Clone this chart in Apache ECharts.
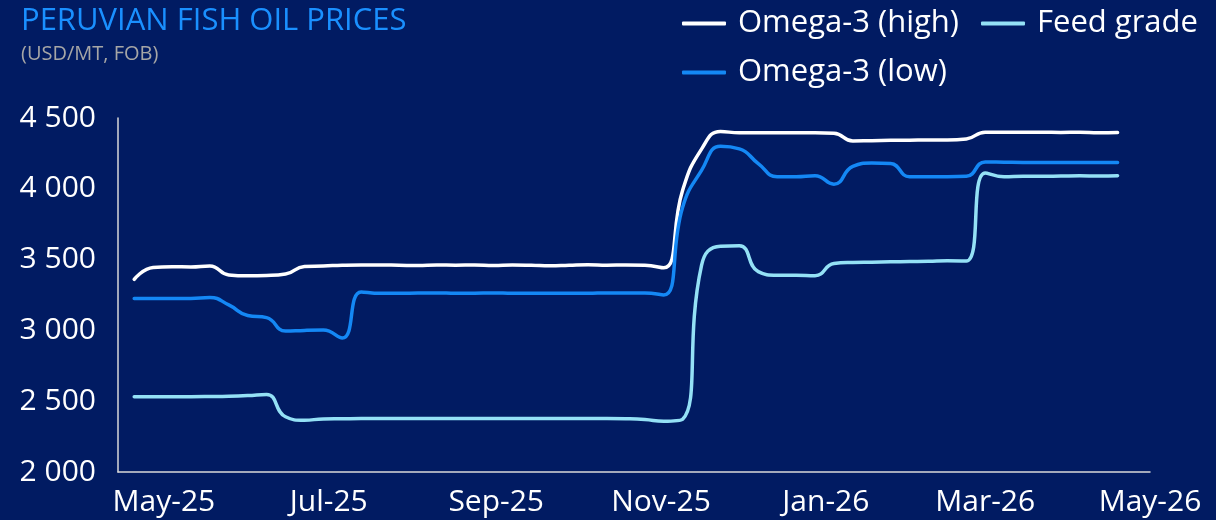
<!DOCTYPE html>
<html>
<head>
<meta charset="utf-8">
<title>Peruvian fish oil prices</title>
<script src="https://cdn.jsdelivr.net/npm/echarts@6/dist/echarts.min.js"></script>
<style>
  html, body { margin: 0; padding: 0; background: #011b62; }
  #chart { width: 1216px; height: 520px; }
</style>
</head>
<body>
<div id="chart"></div>
<script>
// weekly price points (USD/MT, FOB)
const weeks = [
  '2025-04-20', '2025-04-27', '2025-05-04', '2025-05-11', '2025-05-18', '2025-05-25',
  '2025-06-01', '2025-06-08', '2025-06-15', '2025-06-22', '2025-06-29',
  '2025-07-06', '2025-07-13', '2025-07-20', '2025-07-27',
  '2025-08-03', '2025-08-10', '2025-08-17', '2025-08-24', '2025-08-31',
  '2025-09-07', '2025-09-14', '2025-09-21', '2025-09-28',
  '2025-10-05', '2025-10-12', '2025-10-19', '2025-10-26',
  '2025-11-02', '2025-11-09', '2025-11-16', '2025-11-23', '2025-11-30',
  '2025-12-07', '2025-12-14', '2025-12-21', '2025-12-28',
  '2026-01-04', '2026-01-11', '2026-01-18', '2026-01-25',
  '2026-02-01', '2026-02-08', '2026-02-15', '2026-02-22',
  '2026-03-01', '2026-03-08', '2026-03-15', '2026-03-22', '2026-03-29',
  '2026-04-05', '2026-04-12', '2026-04-19'
]

const omegaHigh = [
  3360, 3445, 3450, 3448, 3455, 3392,
  3386, 3388, 3398, 3452, 3455,
  3460, 3462, 3462, 3460,
  3458, 3462, 3460, 3462, 3458,
  3462, 3460, 3456, 3460,
  3463, 3460, 3462, 3460,
  3442, 3990, 4280, 4405, 4395,
  4395, 4395, 4395, 4395,
  4393, 4338, 4340, 4342,
  4343, 4345, 4345, 4352,
  4400, 4400, 4400, 4400, 4398,
  4400, 4395, 4397
]

const omegaLow = [
  3225, 3225, 3225, 3226, 3232, 3180,
  3105, 3090, 2995, 3000, 3002,
  2946, 3272, 3262, 3262,
  3264, 3265, 3262, 3263, 3265,
  3262, 3262, 3263, 3262,
  3262, 3265, 3265, 3265,
  3250, 3870, 4130, 4300, 4282,
  4178, 4085, 4085, 4092,
  4033, 4158, 4182, 4178,
  4085, 4085, 4085, 4088,
  4190, 4188, 4186, 4186, 4186,
  4186, 4186, 4186
]

const feedGrade = [
  2532, 2532, 2532, 2532, 2533, 2535,
  2540, 2548, 2390, 2365, 2375,
  2376, 2377, 2377, 2378,
  2378, 2378, 2378, 2378, 2378,
  2378, 2378, 2378, 2378,
  2378, 2378, 2376, 2370,
  2358, 2372, 3460, 3595, 3598,
  3415, 3390, 3390, 3386,
  3472, 3480, 3482, 3484,
  3486, 3488, 3492, 3490,
  4112, 4085, 4088, 4088, 4090,
  4092, 4090, 4093
]

// x axis labels every two months
const labelMonths = ['2025-05-01', '2025-07-01', '2025-09-01', '2025-11-01', '2026-01-01', '2026-03-01', '2026-05-01']
const monthNames = ['Jan', 'Feb', 'Mar', 'Apr', 'May', 'Jun', 'Jul', 'Aug', 'Sep', 'Oct', 'Nov', 'Dec']

const font = 'Open Sans'
const DAY = 86400000
const origin = Date.UTC(2025, 4, 1)
// days since 1 May 2025
const toDay = (s) => {
  const p = s.split('-').map(Number)
  return Math.round((Date.UTC(p[0], p[1] - 1, p[2]) - origin) / DAY)
}
const dayLabel = (day) => {
  const d = new Date(origin + day * DAY)
  return monthNames[d.getUTCMonth()] + '-' + String(d.getUTCFullYear()).slice(2)
}
const pairs = (vals) => weeks.map((w, i) => [toDay(w), vals[i]])

const colors = {
  high: '#ffffff',
  low: '#1488f5',
  feed: '#94e1f6'
}

const lineSeries = (name, vals, color) => ({
  name: name,
  type: 'line',
  smooth: 0.5,
  showSymbol: false,
  data: pairs(vals),
  itemStyle: { color: color },
  lineStyle: { color: color, width: 3.5, cap: 'round', join: 'round' }
})

const legendBase = {
  left: 677,
  orient: 'horizontal',
  icon: 'roundRect',
  itemWidth: 44,
  itemHeight: 4,
  itemGap: 22,
  itemStyle: { borderWidth: 0 },
  textStyle: { color: '#ffffff', fontSize: 31, fontFamily: font, padding: [0, 0, 0, 7] }
}

const chart = echarts.init(document.getElementById('chart'))
chart.setOption({
  backgroundColor: '#011b62',
  animation: false,
  title: [
    {
      text: 'PERUVIAN FISH OIL PRICES',
      left: 16,
      top: 1,
      textStyle: { color: '#1a90ff', fontSize: 31, fontWeight: 'normal', fontFamily: font }
    },
    {
      text: '(USD/MT, FOB)',
      left: 16,
      top: 39,
      textStyle: { color: '#a6a6a6', fontSize: 20, fontWeight: 'normal', fontFamily: font }
    }
  ],
  legend: [
    Object.assign({}, legendBase, { top: 3, data: ['Omega-3 (high)', 'Feed grade'] }),
    Object.assign({}, legendBase, { top: 52, data: ['Omega-3 (low)'] })
  ],
  grid: { left: 118, right: 66, top: 118, bottom: 48, containLabel: false },
  xAxis: {
    type: 'value',
    min: toDay('2025-04-14'),
    max: toDay('2026-05-01'),
    axisLine: { show: true, onZero: false, lineStyle: { color: '#d9d9d9', width: 1.5 } },
    axisTick: { show: false },
    splitLine: { show: false },
    axisLabel: {
      customValues: labelMonths.map(toDay),
      color: '#ffffff',
      fontSize: 30,
      fontFamily: font,
      margin: 15,
      formatter: dayLabel
    }
  },
  yAxis: {
    type: 'value',
    min: 2000,
    max: 4500,
    interval: 500,
    axisLine: { show: true, onZero: false, lineStyle: { color: '#d9d9d9', width: 1.5 } },
    axisTick: { show: false },
    splitLine: { show: false },
    axisLabel: {
      color: '#ffffff',
      fontSize: 30,
      fontFamily: font,
      margin: 22,
      formatter: function (v) {
        return String(v).replace(/\B(?=(\d{3})+(?!\d))/g, ' ')
      }
    }
  },
  series: [
    lineSeries('Omega-3 (high)', omegaHigh, colors.high),
    lineSeries('Feed grade', feedGrade, colors.feed),
    lineSeries('Omega-3 (low)', omegaLow, colors.low)
  ]
})

window.addEventListener('resize', function () {
  chart.resize()
})
</script>
</body>
</html>
